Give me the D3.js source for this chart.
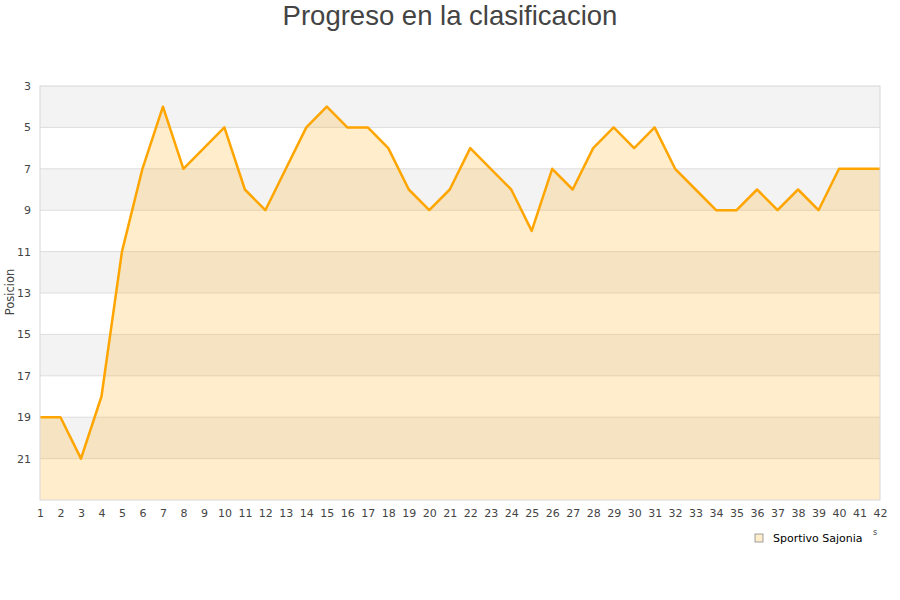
<!DOCTYPE html>
<html lang="es">
  <head>
    <meta charset="UTF-8" />
    <title>Progreso en la clasificacion</title>
    <script src="https://d3js.org/d3.v7.min.js"></script>
    <style>
      body { margin: 0; background: #fff; }
      .tick text { font-family: "DejaVu Sans", sans-serif; font-size: 11px; fill: #444; }
    </style>
  </head>
  <body>
    <div id="chart"></div>
    <script>
      // Datos: posicion por jornada
      const jornadas = d3.range(1, 43);
      const posiciones = [19, 19, 21, 18, 11, 7, 4, 7, 6, 5, 8, 9, 7, 5, 4, 5, 5, 6, 8, 9, 8,
        6, 7, 8, 10, 7, 8, 6, 5, 6, 5, 7, 8, 9, 9, 8, 9, 8, 9, 7, 7, 7];
      const yTicks = [3, 5, 7, 9, 11, 13, 15, 17, 19, 21];
      const equipo = "Sportivo Sajonia";

      const W = 900, H = 600;
      const margin = { top: 86, right: 20, bottom: 100, left: 40 };
      const width = W - margin.left - margin.right;
      const height = H - margin.top - margin.bottom;

      const svg = d3.select("#chart").append("svg")
        .attr("width", W).attr("height", H);

      svg.append("text")
        .attr("x", W / 2).attr("y", 25)
        .attr("text-anchor", "middle")
        .attr("font-family", "Liberation Sans, Arial, sans-serif")
        .attr("font-size", 27.5)
        .attr("fill", "#444")
        .text("Progreso en la clasificacion");

      const g = svg.append("g").attr("transform", `translate(${margin.left},${margin.top})`);

      const x = d3.scaleLinear().domain([1, 42]).range([0, width]);
      const y = d3.scaleLinear().domain([3, 23]).range([0, height]);

      // Bandas alternas
      g.selectAll(".band")
        .data(yTicks)
        .enter().append("rect")
        .attr("x", 0)
        .attr("y", d => y(d))
        .attr("width", width)
        .attr("height", d => y(d + 2) - y(d))
        .attr("fill", (d, i) => i % 2 === 0 ? "#f3f3f3" : "#ffffff");

      // Lineas de rejilla
      g.selectAll(".grid")
        .data(yTicks.slice(1))
        .enter().append("line")
        .attr("x1", 0).attr("x2", width)
        .attr("y1", d => y(d)).attr("y2", d => y(d))
        .attr("stroke", "#dddddd");

      const data = jornadas.map((j, i) => ({ j, p: posiciones[i] }));

      // Area
      g.append("path")
        .datum(data)
        .attr("fill", "#ffa500")
        .attr("fill-opacity", 0.2)
        .attr("d", d3.area().x(d => x(d.j)).y0(height).y1(d => y(d.p)));

      // Linea
      g.append("path")
        .datum(data)
        .attr("fill", "none")
        .attr("stroke", "#ffa500")
        .attr("stroke-width", 2.5)
        .attr("stroke-linejoin", "round")
        .attr("d", d3.line().x(d => x(d.j)).y(d => y(d.p)));

      // Borde
      g.append("rect")
        .attr("width", width).attr("height", height)
        .attr("fill", "none").attr("stroke", "#d8d8d8");

      // Ejes
      const yAxis = g.append("g")
        .call(d3.axisLeft(y).tickValues(yTicks).tickSize(0).tickPadding(9));
      yAxis.select(".domain").remove();

      const xAxis = g.append("g")
        .attr("transform", `translate(0,${height})`)
        .call(d3.axisBottom(x).tickValues(jornadas).tickFormat(d3.format("d")).tickSize(0).tickPadding(9));
      xAxis.select(".domain").remove();

      svg.append("text")
        .attr("transform", `translate(14,${margin.top + height / 2 - 1}) rotate(-90)`)
        .attr("text-anchor", "middle")
        .attr("font-family", "DejaVu Sans, sans-serif")
        .attr("font-size", 11.5)
        .attr("fill", "#444")
        .text("Posicion");

      svg.append("text")
        .attr("x", 875).attr("y", 535)
        .attr("text-anchor", "middle")
        .attr("font-family", "DejaVu Sans, sans-serif")
        .attr("font-size", 8)
        .attr("fill", "#444")
        .text("s");

      // Leyenda
      const legend = svg.append("g").attr("transform", "translate(755,534)");
      legend.append("rect")
        .attr("width", 8).attr("height", 8)
        .attr("fill", "#ffedcc").attr("stroke", "#888").attr("stroke-width", 0.8);
      legend.append("text")
        .attr("x", 18).attr("y", 8)
        .attr("font-family", "DejaVu Sans, sans-serif")
        .attr("font-size", 11)
        .attr("fill", "#000")
        .text(equipo);
    </script>
  </body>
</html>
